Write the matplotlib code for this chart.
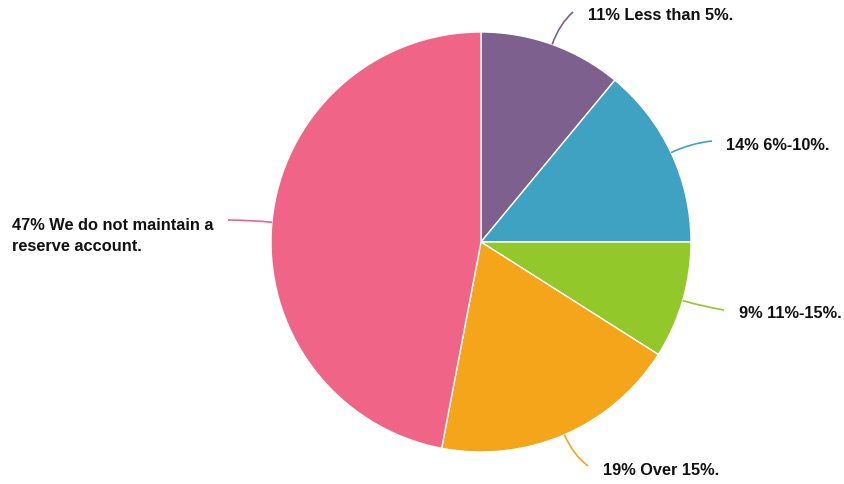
import numpy as np
import matplotlib
matplotlib.use("Agg")
import matplotlib.pyplot as plt
from matplotlib.path import Path
from matplotlib.patches import PathPatch

labels = ["Less than 5%.", "6%-10%.", "11%-15%.", "Over 15%.", "We do not maintain a\nreserve account."]
values = [11, 14, 9, 19, 47]
colors = ["#7E608F", "#3FA2C2", "#92C82A", "#F5A519", "#F06487"]

W, H = 844, 485
fig = plt.figure(figsize=(W / 100, H / 100), dpi=100)
ax = fig.add_axes([0, 0, 1, 1])

cx, cy, R = 481, H - 243, 210
wedges, _ = ax.pie(values, colors=colors, startangle=90, counterclock=False,
                   center=(cx, cy), radius=R, frame=True,
                   wedgeprops=dict(edgecolor="white", linewidth=1))
ax.set_xlim(0, W)
ax.set_ylim(0, H)
ax.set_aspect("equal")
ax.axis("off")

# label anchor points (pixel coords, top-left origin) and text positions
ends = [(573, 13), (712, 142), (724, 311), (588, 467), (228, 221)]
texts = [(588, 16), (726, 146), (739, 314), (603, 471), (12, 236)]

for w, v, lab, col, e, t in zip(wedges, values, labels, colors, ends, texts):
    ang = np.deg2rad((w.theta1 + w.theta2) / 2)
    sx, sy = cx + R * np.cos(ang), cy + R * np.sin(ang)
    c1x, c1y = cx + (R + 22) * np.cos(ang), cy + (R + 22) * np.sin(ang)
    ex, ey = e[0], H - e[1]
    path = Path([(sx, sy), (c1x, c1y), (ex, ey)], [Path.MOVETO, Path.CURVE3, Path.CURVE3])
    ax.add_patch(PathPatch(path, facecolor="none", edgecolor=col, linewidth=1.2))
    ax.text(t[0], H - t[1], f"{v}% {lab}", ha="left", va="center", fontsize=11.8,
            fontweight="bold", family="Liberation Sans", color="#111111", linespacing=1.42)

fig.savefig("out.png", dpi=100, facecolor="white")
